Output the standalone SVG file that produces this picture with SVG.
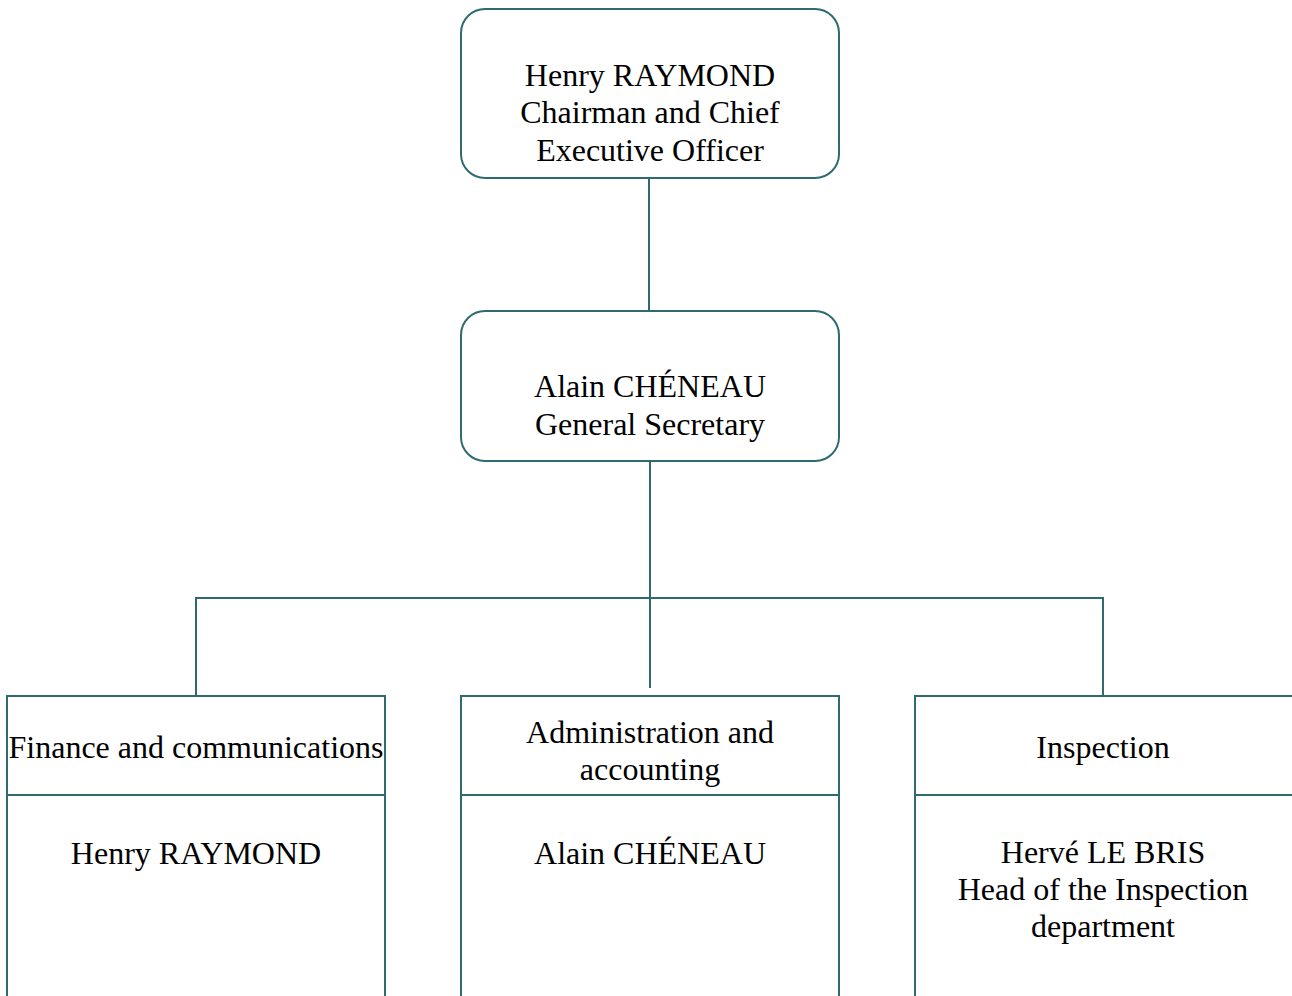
<svg xmlns="http://www.w3.org/2000/svg" width="1292" height="996" viewBox="0 0 1292 996">
<style>
.box{fill:#ffffff;stroke:#2e6b70;stroke-width:2}
.ln{fill:none;stroke:#2e6b70;stroke-width:2}
.t{font-family:'Liberation Serif','DejaVu Serif',serif;font-size:32px;fill:#000000;text-anchor:middle}
</style>
<rect width="1292" height="996" fill="#ffffff"/>
<g id="connectors">
<line class="ln" x1="649" y1="178" x2="649" y2="311"/>
<line class="ln" x1="650" y1="461" x2="650" y2="688"/>
<polyline class="ln" points="196,696 196,598 1103,598 1103,696"/>
</g>
<g id="ceo">
<rect class="box" x="461" y="9" width="378" height="169" rx="24"/>
<text class="t" x="650" y="86">Henry RAYMOND</text>
<text class="t" x="650" y="123">Chairman and Chief</text>
<text class="t" x="650" y="161">Executive Officer</text>
</g>
<g id="secretary">
<rect class="box" x="461" y="311" width="378" height="150" rx="24"/>
<text class="t" x="650" y="397">Alain CHÉNEAU</text>
<text class="t" x="650" y="435">General Secretary</text>
</g>
<g id="finance">
<rect class="box" x="7" y="696" width="378" height="310"/>
<line class="ln" x1="7" y1="795" x2="385" y2="795"/>
<text class="t" x="196" y="758">Finance and communications</text>
<text class="t" x="196" y="864">Henry RAYMOND</text>
</g>
<g id="administration">
<rect class="box" x="461" y="696" width="378" height="310"/>
<line class="ln" x1="461" y1="795" x2="839" y2="795"/>
<text class="t" x="650" y="743">Administration and</text>
<text class="t" x="650" y="780">accounting</text>
<text class="t" x="650" y="864">Alain CHÉNEAU</text>
</g>
<g id="inspection">
<rect class="box" x="915" y="696" width="378" height="310"/>
<line class="ln" x1="915" y1="795" x2="1293" y2="795"/>
<text class="t" x="1103" y="758">Inspection</text>
<text class="t" x="1103" y="863">Hervé LE BRIS</text>
<text class="t" x="1103" y="900">Head of the Inspection</text>
<text class="t" x="1103" y="937">department</text>
</g>
</svg>
